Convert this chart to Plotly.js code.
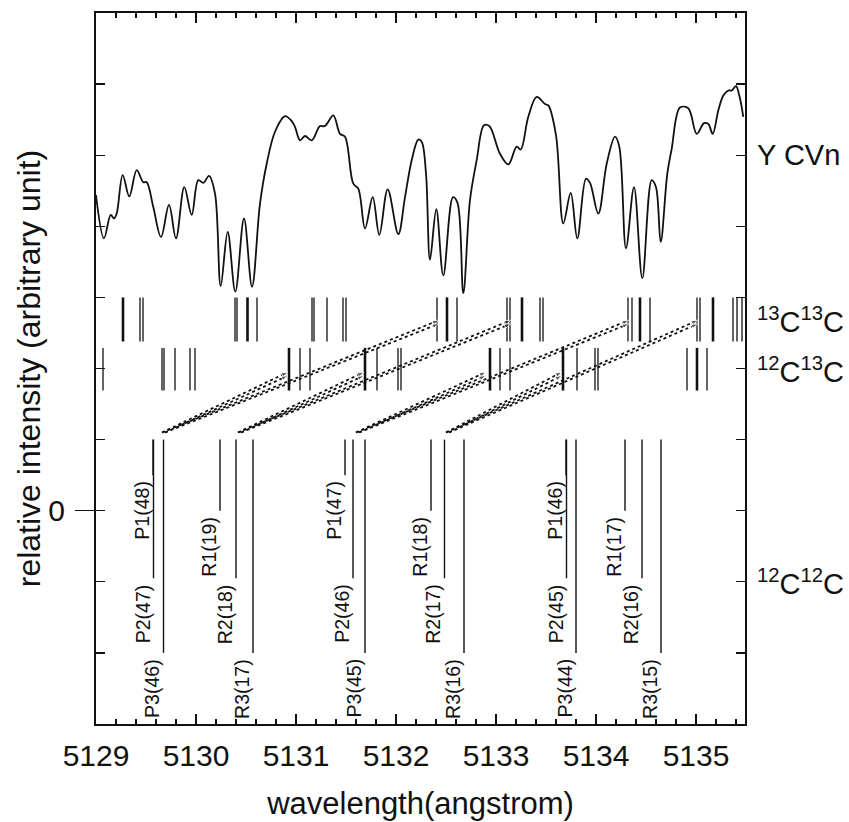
<!DOCTYPE html>
<html><head><meta charset="utf-8">
<script src="https://cdn.plot.ly/plotly-3.0.1.min.js"></script>
<style>html,body{margin:0;padding:0;background:#fff}#chart{width:849px;height:822px}</style>
</head><body><div id="chart"></div>
<script>
// Y CVn spectrum
const specWl = [5129.00,5129.08,5129.147,5129.18,5129.207,5129.267,5129.333,5129.407,5129.473,5129.507,5129.573,5129.65,5129.73,5129.80,5129.883,5129.957,5130.023,5130.073,5130.13,5130.19,5130.247,5130.317,5130.393,5130.48,5130.56,5130.64,5130.707,5130.79,5130.89,5130.957,5130.99,5131.04,5131.09,5131.157,5131.24,5131.29,5131.373,5131.44,5131.49,5131.573,5131.623,5131.69,5131.767,5131.833,5131.917,5132.023,5132.09,5132.157,5132.223,5132.257,5132.30,5132.34,5132.403,5132.473,5132.57,5132.615,5132.673,5132.74,5132.807,5132.88,5132.933,5133.04,5133.123,5133.207,5133.247,5133.323,5133.407,5133.49,5133.523,5133.60,5133.673,5133.747,5133.813,5133.90,5133.94,5134.023,5134.107,5134.19,5134.233,5134.30,5134.38,5134.463,5134.557,5134.60,5134.647,5134.713,5134.757,5134.84,5134.923,5135.007,5135.08,5135.123,5135.167,5135.223,5135.273,5135.323,5135.357,5135.40,5135.433,5135.473];
const specFlux = [4.44,3.83,4.16,4.11,4.18,4.72,4.42,4.79,4.62,4.62,4.27,3.85,4.30,3.83,4.55,4.16,4.65,4.61,4.71,4.46,3.16,3.92,3.08,4.11,3.15,4.32,4.88,5.33,5.55,5.48,5.40,5.21,5.27,5.21,5.41,5.41,5.56,5.30,5.26,4.60,4.53,3.97,4.41,3.88,4.52,3.89,4.41,4.93,5.22,5.19,4.74,3.53,4.24,3.31,4.41,4.33,3.06,4.37,4.93,5.42,5.41,5.02,4.87,5.12,5.08,5.54,5.82,5.72,5.70,5.28,4.04,4.47,3.83,4.67,4.61,4.18,4.88,5.26,5.12,3.69,4.55,3.27,4.65,4.55,3.78,4.74,5.09,5.67,5.66,5.30,5.45,5.44,5.30,5.63,5.84,5.91,5.91,5.97,5.84,5.54];

// 13C13C line list
const c13c13Thin = [5129.44,5129.47,5130.39,5130.41,5130.61,5131.16,5131.18,5131.31,5131.47,5131.50,5132.41,5132.61,5133.11,5133.14,5133.44,5133.47,5134.32,5134.36,5134.54,5135.01,5135.04,5135.37,5135.41,5135.46];
const c13c13Thick = [5129.27,5130.515,5132.51,5133.26,5134.44,5135.17];
// 12C13C line list
const c12c13Thin = [5129.07,5129.66,5129.68,5129.79,5129.94,5129.99,5131.04,5131.14,5131.81,5132.02,5132.05,5133.04,5133.14,5133.81,5133.99,5134.02,5134.91,5135.11];
const c12c13Thick = [5130.93,5131.69,5132.94,5133.67,5135.01];
// 12C12C lines
const c12c12Wl = [5129.57,5129.575,5129.675,5130.24,5130.40,5130.57,5131.49,5131.57,5131.69,5132.35,5132.485,5132.68,5133.70,5133.705,5133.80,5134.29,5134.46,5134.65];
const c12c12End = [0.5,-0.95,-2.0,0.0,-0.95,-2.0,0.5,-0.95,-2.0,0.0,-0.95,-2.0,0.5,-0.95,-2.0,0.0,-0.95,-2.0];
const c12c12Label = ['P1(48)','P2(47)','P3(46)','R1(19)','R2(18)','R3(17)','P1(47)','P2(46)','P3(45)','R1(18)','R2(17)','R3(16)','P1(46)','P2(45)','P3(44)','R1(17)','R2(16)','R3(15)'];
// isotopic shift connectors (12C12C -> 12C13C, 13C13C)
const connStart = [5129.66,5130.42,5131.60,5132.50];
const conn1213End = [5130.92,5131.68,5132.90,5133.66];
const conn1313End = [5132.43,5133.15,5134.33,5135.02];

// band levels (y units)
const c12c12Top = 1.0;
const c12c13Band = [1.69, 2.29];
const c13c13Band = [2.38, 3.0];
const connStartY = 1.1, conn1213Y = 1.95, conn1313Y = 2.68;

// right-side labels
const sideLabels = ['Y CVn','<sup>13</sup>C<sup>13</sup>C','<sup>12</sup>C<sup>13</sup>C','<sup>12</sup>C<sup>12</sup>C'];
const sideLabelY = [5.0, 2.68, 1.98, -1.0];

const FONT = 'Liberation Sans, Arial, Helvetica, sans-serif';

function bars(xs, y0s, y1s){
  const x=[], y=[];
  xs.forEach((v,i)=>{
    x.push(v,v,null);
    y.push(Array.isArray(y0s)?y0s[i]:y0s, Array.isArray(y1s)?y1s[i]:y1s, null);
  });
  return {x,y};
}

const traces = [];
traces.push({x:specWl, y:specFlux, mode:'lines', line:{color:'#111', width:1.8, shape:'spline', smoothing:1.0}, hoverinfo:'skip'});

[[c13c13Thin,c13c13Band,1.3],[c13c13Thick,c13c13Band,2.6],[c12c13Thin,c12c13Band,1.3],[c12c13Thick,c12c13Band,2.6]].forEach(([xs,band,w])=>{
  const b = bars(xs, band[0], band[1]);
  traces.push({x:b.x, y:b.y, mode:'lines', line:{color:'#111', width:w}, hoverinfo:'skip'});
});

const b12 = bars(c12c12Wl, c12c12Top, c12c12End);
traces.push({x:b12.x, y:b12.y, mode:'lines', line:{color:'#111', width:1.4}, hoverinfo:'skip'});

connStart.forEach((s,i)=>{
  [[conn1213End[i],conn1213Y],[conn1313End[i],conn1313Y]].forEach(([e,ey])=>{
    [[0,0],[0.03,-0.05]].forEach(([dx,dy])=>{
      traces.push({x:[s+dx, e], y:[connStartY, ey+dy], mode:'lines+markers',
        line:{color:'#111', width:1.8, dash:'dot'},
        marker:{symbol:'arrow', size:[0,7], angleref:'previous', color:'#111'},
        hoverinfo:'skip'});
    });
  });
});
// axis carrying the single "0" label with an outward tick
traces.push({x:[specWl[0]], y:[0], yaxis:'y2', mode:'markers', marker:{size:0, opacity:0}, hoverinfo:'skip'});

const annotations = [];
c12c12Wl.forEach((w,i)=>{
  annotations.push({x:w, y:c12c12End[i], xref:'x', yref:'y', text:c12c12Label[i], textangle:-90,
    showarrow:false, xanchor:'right', yanchor:'top', xshift:2, yshift:-4,
    font:{family:FONT, size:19.5, color:'#111'}});
});
sideLabels.forEach((t,i)=>{
  annotations.push({x:1, xref:'paper', y:sideLabelY[i], yref:'y', text:t, showarrow:false,
    xanchor:'left', yanchor:'middle', xshift:10, font:{family:FONT, size:29, color:'#111'}});
});

const layout = {
  width:849, height:822,
  margin:{l:96, r:104, t:13, b:98},
  paper_bgcolor:'#fff', plot_bgcolor:'#fff',
  showlegend:false,
  font:{family:FONT, color:'#111'},
  xaxis:{range:[5129, 5135.49], showgrid:false, zeroline:false, showline:true, linecolor:'#111', linewidth:1.6,
    mirror:'ticks', ticks:'inside', ticklen:10, tickwidth:1.3, tickcolor:'#111', tick0:5129, dtick:1,
    minor:{dtick:0.2, ticks:'inside', ticklen:5, tickwidth:1.2, tickcolor:'#111', showgrid:false},
    tickfont:{family:FONT, size:30, color:'#111'}, ticklabelstandoff:4,
    title:{text:'wavelength(angstrom)', font:{family:FONT, size:31, color:'#111'}, standoff:22}},
  yaxis:{range:[-3, 7], showgrid:false, zeroline:false, showline:true, linecolor:'#111', linewidth:1.6,
    mirror:'ticks', ticks:'inside', ticklen:9, tickwidth:1.3, tickcolor:'#111', tick0:0, dtick:1,
    showticklabels:false,
    title:{text:'relative intensity (arbitrary unit)', font:{family:FONT, size:32, color:'#111'}, standoff:44}},
  yaxis2:{range:[-3, 7], overlaying:'y', side:'left', showgrid:false, zeroline:false, showline:false,
    tickvals:[0], ticktext:['0'], ticks:'outside', ticklen:20, tickwidth:1.3, tickcolor:'#111',
    tickfont:{family:FONT, size:30, color:'#111'}, ticklabelstandoff:4},
  annotations
};

Plotly.newPlot('chart', traces, layout, {displayModeBar:false, staticPlot:true});
</script></body></html>
